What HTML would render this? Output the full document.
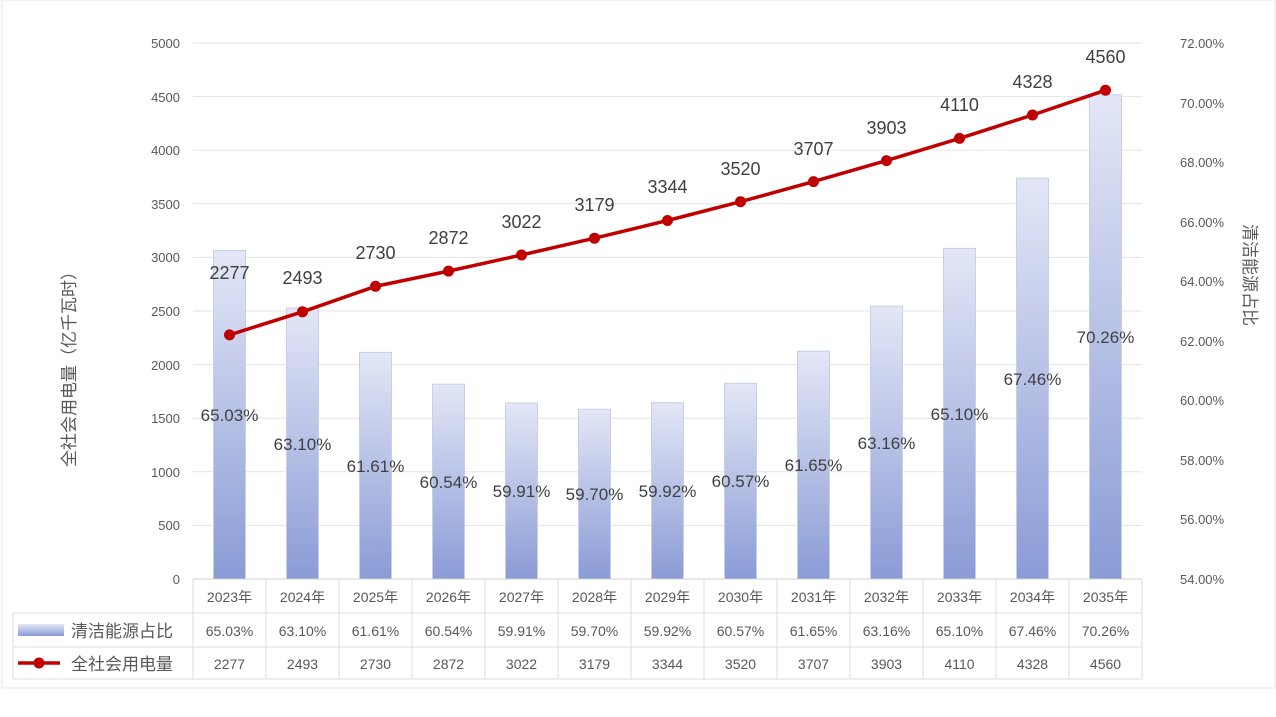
<!DOCTYPE html>
<html><head><meta charset="utf-8"><style>
body{margin:0;background:#fff;}
svg{display:block;font-family:"Liberation Sans","Noto Sans CJK SC",sans-serif;}
</style></head><body>
<svg width="1276" height="717" viewBox="0 0 1276 717" xmlns="http://www.w3.org/2000/svg">
<defs><linearGradient id="g" x1="0" y1="0" x2="0" y2="1"><stop offset="0" stop-color="#e3e7f6"/><stop offset="1" stop-color="#8a9bd6"/></linearGradient></defs>
<rect x="2" y="0" width="1273" height="688" fill="none" stroke="#e6e6e6"/>
<g stroke="#e3e3e3" stroke-width="1">
<line x1="193" x2="1142" y1="43" y2="43"/><line x1="193" x2="1142" y1="96.6" y2="96.6"/><line x1="193" x2="1142" y1="150.2" y2="150.2"/><line x1="193" x2="1142" y1="203.8" y2="203.8"/><line x1="193" x2="1142" y1="257.4" y2="257.4"/><line x1="193" x2="1142" y1="311" y2="311"/><line x1="193" x2="1142" y1="364.6" y2="364.6"/><line x1="193" x2="1142" y1="418.2" y2="418.2"/><line x1="193" x2="1142" y1="471.8" y2="471.8"/><line x1="193" x2="1142" y1="525.4" y2="525.4"/>
</g>
<g fill="#595959" font-size="13" text-anchor="end">
<text x="180" y="48">5000</text><text x="180" y="102">4500</text><text x="180" y="155">4000</text><text x="180" y="209">3500</text><text x="180" y="262">3000</text><text x="180" y="316">2500</text><text x="180" y="370">2000</text><text x="180" y="423">1500</text><text x="180" y="477">1000</text><text x="180" y="530">500</text><text x="180" y="584">0</text>
</g>
<g fill="#595959" font-size="13">
<text x="1180" y="48">72.00%</text><text x="1180" y="108">70.00%</text><text x="1180" y="167">68.00%</text><text x="1180" y="227">66.00%</text><text x="1180" y="286">64.00%</text><text x="1180" y="346">62.00%</text><text x="1180" y="405">60.00%</text><text x="1180" y="465">58.00%</text><text x="1180" y="524">56.00%</text><text x="1180" y="584">54.00%</text>
</g>
<text transform="translate(75,365) rotate(-90)" text-anchor="middle" fill="#595959" font-size="17">全社会用电量（亿千瓦时）</text>
<text transform="translate(1244,275) rotate(90)" text-anchor="middle" fill="#595959" font-size="17">清洁能源占比</text>
<g fill="url(#g)" stroke="#c9cfe8" stroke-width="1">
<rect x="213.5" y="250.5" width="32" height="328.5"/>
<rect x="286.5" y="308" width="32" height="271"/>
<rect x="359.5" y="352.4" width="32" height="226.6"/>
<rect x="432.5" y="384.2" width="32" height="194.8"/>
<rect x="505.5" y="403" width="32" height="176"/>
<rect x="578.5" y="409.3" width="32" height="169.7"/>
<rect x="651.5" y="402.7" width="32" height="176.3"/>
<rect x="724.5" y="383.3" width="32" height="195.7"/>
<rect x="797.5" y="351.2" width="32" height="227.8"/>
<rect x="870.5" y="306.2" width="32" height="272.8"/>
<rect x="943.5" y="248.4" width="32" height="330.6"/>
<rect x="1016.5" y="178.2" width="32" height="400.8"/>
<rect x="1089.5" y="94.8" width="32" height="484.2"/>
</g>
<g fill="#404040" font-size="17" text-anchor="middle">
<text x="229.5" y="421">65.03%</text><text x="302.5" y="450">63.10%</text><text x="375.5" y="472">61.61%</text><text x="448.5" y="488">60.54%</text><text x="521.5" y="497">59.91%</text><text x="594.5" y="500">59.70%</text><text x="667.5" y="497">59.92%</text><text x="740.5" y="487">60.57%</text><text x="813.5" y="471">61.65%</text><text x="886.5" y="449">63.16%</text><text x="959.5" y="420">65.10%</text><text x="1032.5" y="385">67.46%</text><text x="1105.5" y="343">70.26%</text>
</g>
<polyline fill="none" stroke="#c00000" stroke-width="3.5" points="229.5,334.9 302.5,311.8 375.5,286.3 448.5,271.1 521.5,255 594.5,238.2 667.5,220.5 740.5,201.7 813.5,181.6 886.5,160.6 959.5,138.4 1032.5,115 1105.5,90.2"/>
<g fill="#c00000">
<circle cx="229.5" cy="334.9" r="5.5"/><circle cx="302.5" cy="311.8" r="5.5"/><circle cx="375.5" cy="286.3" r="5.5"/><circle cx="448.5" cy="271.1" r="5.5"/><circle cx="521.5" cy="255" r="5.5"/><circle cx="594.5" cy="238.2" r="5.5"/><circle cx="667.5" cy="220.5" r="5.5"/><circle cx="740.5" cy="201.7" r="5.5"/><circle cx="813.5" cy="181.6" r="5.5"/><circle cx="886.5" cy="160.6" r="5.5"/><circle cx="959.5" cy="138.4" r="5.5"/><circle cx="1032.5" cy="115" r="5.5"/><circle cx="1105.5" cy="90.2" r="5.5"/>
</g>
<g fill="#404040" font-size="18" text-anchor="middle">
<text x="229.5" y="279">2277</text><text x="302.5" y="284">2493</text><text x="375.5" y="259">2730</text><text x="448.5" y="244">2872</text><text x="521.5" y="228">3022</text><text x="594.5" y="211">3179</text><text x="667.5" y="193">3344</text><text x="740.5" y="175">3520</text><text x="813.5" y="155">3707</text><text x="886.5" y="134">3903</text><text x="959.5" y="111">4110</text><text x="1032.5" y="88">4328</text><text x="1105.5" y="63">4560</text>
</g>
<g stroke="#dcdcdc" stroke-width="1" fill="none">
<line x1="13" x2="1142" y1="613" y2="613"/><line x1="13" x2="1142" y1="647" y2="647"/><line x1="13" x2="1142" y1="679" y2="679"/>
<line x1="13" x2="13" y1="613" y2="679"/>
<line x1="193" x2="193" y1="579" y2="679"/><line x1="266" x2="266" y1="579" y2="679"/><line x1="339" x2="339" y1="579" y2="679"/><line x1="412" x2="412" y1="579" y2="679"/><line x1="485" x2="485" y1="579" y2="679"/><line x1="558" x2="558" y1="579" y2="679"/><line x1="631" x2="631" y1="579" y2="679"/><line x1="704" x2="704" y1="579" y2="679"/><line x1="777" x2="777" y1="579" y2="679"/><line x1="850" x2="850" y1="579" y2="679"/><line x1="923" x2="923" y1="579" y2="679"/><line x1="996" x2="996" y1="579" y2="679"/><line x1="1069" x2="1069" y1="579" y2="679"/><line x1="1142" x2="1142" y1="579" y2="679"/>
</g>
<line x1="193" x2="1142" y1="579" y2="579" stroke="#d0d0d0"/>
<g fill="#595959" font-size="14" text-anchor="middle">
<text x="229.5" y="602">2023年</text><text x="302.5" y="602">2024年</text><text x="375.5" y="602">2025年</text><text x="448.5" y="602">2026年</text><text x="521.5" y="602">2027年</text><text x="594.5" y="602">2028年</text><text x="667.5" y="602">2029年</text><text x="740.5" y="602">2030年</text><text x="813.5" y="602">2031年</text><text x="886.5" y="602">2032年</text><text x="959.5" y="602">2033年</text><text x="1032.5" y="602">2034年</text><text x="1105.5" y="602">2035年</text>
<text x="229.5" y="636">65.03%</text><text x="302.5" y="636">63.10%</text><text x="375.5" y="636">61.61%</text><text x="448.5" y="636">60.54%</text><text x="521.5" y="636">59.91%</text><text x="594.5" y="636">59.70%</text><text x="667.5" y="636">59.92%</text><text x="740.5" y="636">60.57%</text><text x="813.5" y="636">61.65%</text><text x="886.5" y="636">63.16%</text><text x="959.5" y="636">65.10%</text><text x="1032.5" y="636">67.46%</text><text x="1105.5" y="636">70.26%</text>
<text x="229.5" y="669">2277</text><text x="302.5" y="669">2493</text><text x="375.5" y="669">2730</text><text x="448.5" y="669">2872</text><text x="521.5" y="669">3022</text><text x="594.5" y="669">3179</text><text x="667.5" y="669">3344</text><text x="740.5" y="669">3520</text><text x="813.5" y="669">3707</text><text x="886.5" y="669">3903</text><text x="959.5" y="669">4110</text><text x="1032.5" y="669">4328</text><text x="1105.5" y="669">4560</text>
</g>
<rect x="18" y="624" width="46" height="12" fill="url(#g)"/>
<line x1="18" x2="60" y1="663" y2="663" stroke="#c00000" stroke-width="3.5"/>
<circle cx="39" cy="663" r="5.5" fill="#c00000"/>
<g fill="#595959" font-size="17">
<text x="71" y="637">清洁能源占比</text>
<text x="71" y="670">全社会用电量</text>
</g>
</svg>
</body></html>
